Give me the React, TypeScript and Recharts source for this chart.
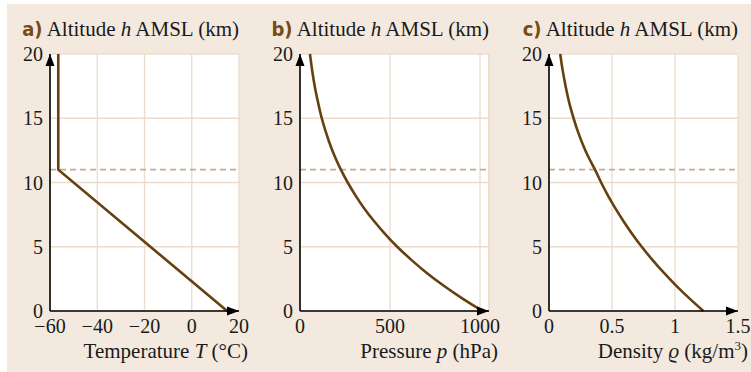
import React from 'react';
import { LineChart, Line, XAxis, YAxis, CartesianGrid, ReferenceLine, ReferenceDot } from 'recharts';

// altitude in km (standard atmosphere)
const heights = [0, 1, 2, 3, 4, 5, 6, 7, 8, 9, 10, 11, 12, 13, 14, 15, 16, 17, 18, 19, 20];
const pressure = [1013, 899, 795, 701, 617, 540, 472, 411, 356, 308, 265, 227, 194, 166, 142, 121, 104, 88.5, 75.6, 64.7, 55.3];
const density = [1.225, 1.112, 1.007, 0.909, 0.819, 0.736, 0.66, 0.59, 0.526, 0.467, 0.414, 0.365, 0.312, 0.267, 0.228, 0.195, 0.166, 0.142, 0.122, 0.104, 0.089];

// temperature profile: linear lapse to tropopause, then constant
const tempHeights = [0, 11, 20];
const temperature = [15, -56.5, -56.5];

const yTicks = [0, 5, 10, 15, 20];
const tempTicks = [-60, -40, -20, 0, 20];
const pressureTicks = [0, 500, 1000];
const densityTicks = [0, 0.5, 1, 1.5];
const tropopause = 11;

const tempData = tempHeights.map((h, i) => ({ x: temperature[i], h }));
const pressureData = heights.map((h, i) => ({ x: pressure[i], h }));
const densityData = heights.map((h, i) => ({ x: density[i], h }));

const SERIF = '"Liberation Serif", "Times New Roman", serif';
const SANS = '"DejaVu Sans Condensed", "Liberation Sans", sans-serif';
const BROWN = '#66400f';
const GRID = '#ecdccb';
const DASH = '#c7ab8e';
const TEXT = '#1a1a1a';

const minus = (v: number) => String(v).replace('-', '\u2212');

const XTick = (props: any) => {
  const { x, y, payload } = props;
  return (
    <text x={x} y={y} dy="0.71em" textAnchor="middle" fontFamily={SERIF} fontSize={20} fill={TEXT}>
      {minus(payload.value)}
    </text>
  );
};

const YTick = (props: any) => {
  const { x, y, payload } = props;
  return (
    <text x={x} y={y} dy="0.355em" textAnchor="end" fontFamily={SERIF} fontSize={20} fill={TEXT}>
      {payload.value}
    </text>
  );
};

const UpArrow = (props: any) => {
  const { cx, cy } = props;
  return <path d={`M${cx},${cy} L${cx - 4.5},${cy + 12} L${cx + 4.5},${cy + 12} Z`} fill="#000" />;
};

const RightArrow = (props: any) => {
  const { cx, cy } = props;
  return <path d={`M${cx},${cy} L${cx - 12},${cy - 4.5} L${cx - 12},${cy + 4.5} Z`} fill="#000" />;
};

function Panel({
  left,
  plotLeft,
  data,
  domain,
  ticks,
  curve,
  edge,
}: {
  left: number;
  plotLeft: number;
  data: { x: number; h: number }[];
  domain: [number, number];
  ticks: number[];
  curve: 'linear' | 'natural';
  edge?: number;
}) {
  return (
    <div style={{ position: 'absolute', left, top: 0 }}>
      <LineChart
        width={250}
        height={372}
        data={data}
        margin={{ top: 54, right: 250 - plotLeft - 189, bottom: 31, left: 0 }}
      >
        <CartesianGrid stroke={GRID} strokeWidth={1.3} fill="#fff" fillOpacity={1} />
        {edge !== undefined && <ReferenceLine x={edge} stroke={GRID} strokeWidth={1.3} />}
        <ReferenceLine y={tropopause} stroke={DASH} strokeWidth={1.6} strokeDasharray="6 4" />
        <XAxis
          type="number"
          dataKey="x"
          domain={domain}
          ticks={ticks}
          allowDataOverflow
          height={30}
          tickSize={0}
          tickMargin={8}
          axisLine={{ stroke: '#000', strokeWidth: 1.6 }}
          tick={<XTick />}
        />
        <YAxis
          type="number"
          dataKey="h"
          domain={[0, 20]}
          ticks={yTicks}
          width={plotLeft}
          tickSize={0}
          tickMargin={7}
          axisLine={{ stroke: '#000', strokeWidth: 1.6 }}
          tick={<YTick />}
        />
        <Line
          type={curve}
          dataKey="h"
          stroke={BROWN}
          strokeWidth={2.6}
          dot={false}
          isAnimationActive={false}
        />
        <ReferenceDot x={domain[0]} y={20} r={0} shape={UpArrow} ifOverflow="visible" />
        <ReferenceDot x={domain[1]} y={0} r={0} shape={RightArrow} ifOverflow="visible" />
      </LineChart>
    </div>
  );
}

function Title({ x, letter }: { x: number; letter: string }) {
  return (
    <text x={x} y={36} textAnchor="end" fontFamily={SERIF} fontSize={21} fill={TEXT}>
      <tspan fontFamily={SANS} fontWeight="bold" fill="#7a4a12" fontSize={20}>{letter}</tspan>
      <tspan> Altitude </tspan>
      <tspan fontStyle="italic">h</tspan>
      <tspan> AMSL (km)</tspan>
    </text>
  );
}

export default function App() {
  return (
    <div style={{ position: 'absolute', left: 0, top: 0, width: 751, height: 372, background: '#fff', overflow: 'hidden' }}>
      <div style={{ position: 'absolute', left: 7, top: 4, width: 744, height: 368, background: '#f3e9df' }} />
      <Panel left={0} plotLeft={50} data={tempData} domain={[-60, 20]} ticks={tempTicks} curve="linear" />
      <Panel left={250} plotLeft={50} data={pressureData} domain={[0, 1050]} ticks={pressureTicks} curve="natural" edge={1050} />
      <Panel left={500} plotLeft={49} data={densityData} domain={[0, 1.5]} ticks={densityTicks} curve="natural" />
      <svg width={751} height={372} style={{ position: 'absolute', left: 0, top: 0, pointerEvents: 'none' }}>
        <Title x={239} letter="a)" />
        <Title x={489} letter="b)" />
        <Title x={738} letter="c)" />
        <text x={248} y={358} textAnchor="end" fontFamily={SERIF} fontSize={21} fill={TEXT}>
          Temperature <tspan fontStyle="italic">T</tspan> (°C)
        </text>
        <text x={498} y={358} textAnchor="end" fontFamily={SERIF} fontSize={21} fill={TEXT}>
          Pressure <tspan fontStyle="italic">p</tspan> (hPa)
        </text>
        <text x={748} y={358} textAnchor="end" fontFamily={SERIF} fontSize={21} fill={TEXT}>
          Density <tspan fontStyle="italic">ϱ</tspan> (kg/m<tspan dy={-8} fontSize={13}>3</tspan><tspan dy={8}>)</tspan>
        </text>
      </svg>
    </div>
  );
}
